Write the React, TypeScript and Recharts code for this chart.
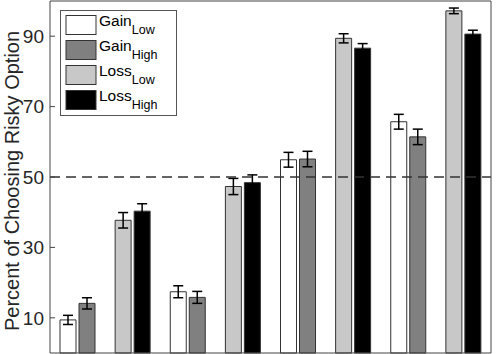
import { BarChart, Bar, XAxis, YAxis, ReferenceLine, ErrorBar, Cell, Legend } from 'recharts';

// four conditions, each split into a gain pair and a loss pair
const gainLow = [9.4, 17.4, 54.9, 65.7];
const gainLowErr = [1.3, 1.7, 2.1, 2.1];
const gainHigh = [14.1, 15.8, 55.1, 61.4];
const gainHighErr = [1.6, 1.7, 2.2, 2.2];
const lossLow = [37.7, 47.3, 89.4, 97.2];
const lossLowErr = [2.2, 2.3, 1.3, 0.8];
const lossHigh = [40.3, 48.4, 86.6, 90.6];
const lossHighErr = [2.1, 2.2, 1.3, 1.1];

const yTicks = [10, 30, 50, 70, 90];
const xTicks = [1.5, 3.5, 5.5, 7.5];

const colors = {
  gain: ['#ffffff', '#808080'],
  loss: ['#c8c8c8', '#000000'],
};

const legendItems = [
  { name: 'Gain', sub: 'Low', fill: colors.gain[0] },
  { name: 'Gain', sub: 'High', fill: colors.gain[1] },
  { name: 'Loss', sub: 'Low', fill: colors.loss[0] },
  { name: 'Loss', sub: 'High', fill: colors.loss[1] },
];

const rows = gainLow.flatMap((_, i) => [
  { x: 2 * i + 1, kind: 'gain', a: gainLow[i], aErr: gainLowErr[i], b: gainHigh[i], bErr: gainHighErr[i] },
  { x: 2 * i + 2, kind: 'loss', a: lossLow[i], aErr: lossLowErr[i], b: lossHigh[i], bErr: lossHighErr[i] },
]);

const FONT = '"Liberation Sans", Arial, sans-serif';
const AXIS = '#444444';
const EDGE = '#333333';

function YLabel() {
  return (
    <text
      x={18.5}
      y={181}
      transform="rotate(-90 18.5 181)"
      textAnchor="middle"
      fontSize={20}
      fontFamily={FONT}
      fill="#262626"
    >
      Percent of Choosing Risky Option
    </text>
  );
}

function LegendBox() {
  return (
    <svg width={118} height={107} style={{ display: 'block' }}>
      <rect x={0.5} y={0.5} width={116} height={105} fill="#fff" stroke="#555" />
      {legendItems.map((item, i) => (
        <g key={i}>
          <rect x={6} y={5.5 + 25 * i} width={30} height={19} fill={item.fill} stroke={EDGE} />
          <text x={39} y={16 + 25 * i} fontFamily={FONT} fill="#000">
            <tspan fontSize={15.5}>{item.name}</tspan>
            <tspan fontSize={12.5} dy={8.3}>{item.sub}</tspan>
          </text>
        </g>
      ))}
    </svg>
  );
}

export default function App() {
  return (
    <div style={{ position: 'absolute', left: 0, top: 0, width: 497, height: 354, background: '#fff' }}>
      <BarChart
        width={497}
        height={354}
        data={rows}
        margin={{ top: 0, right: 0, bottom: 0, left: 0 }}
        barSize={16}
        barGap={3}
        style={{ fontFamily: FONT }}
      >
        <XAxis
          dataKey="x"
          type="number"
          domain={[0.5, 8.5]}
          ticks={xTicks}
          tick={false}
          tickSize={-5}
          height={1}
          axisLine={{ stroke: AXIS }}
          tickLine={{ stroke: AXIS }}
        />
        <XAxis
          xAxisId="top"
          orientation="top"
          dataKey="x"
          type="number"
          domain={[0.5, 8.5]}
          ticks={xTicks}
          tick={false}
          tickSize={-5}
          height={1}
          axisLine={{ stroke: AXIS }}
          tickLine={{ stroke: AXIS }}
        />
        <YAxis
          type="number"
          domain={[0, 100]}
          ticks={yTicks}
          tickSize={-5}
          tickMargin={11}
          width={50}
          axisLine={{ stroke: AXIS }}
          tickLine={{ stroke: AXIS }}
          tick={{ fill: '#262626', fontSize: 19, fontFamily: FONT }}
          label={<YLabel />}
        />
        <YAxis
          yAxisId="right"
          orientation="right"
          type="number"
          domain={[0, 100]}
          ticks={yTicks}
          tick={false}
          tickSize={-5}
          width={6}
          axisLine={{ stroke: AXIS }}
          tickLine={{ stroke: AXIS }}
        />
        <Legend
          layout="vertical"
          align="center"
          verticalAlign="middle"
          wrapperStyle={{ left: 60, top: 10, width: 118, height: 107 }}
          content={<LegendBox />}
        />
        <Bar dataKey="a" stroke={EDGE} strokeWidth={1} isAnimationActive={false}>
          {rows.map((r, i) => (
            <Cell key={i} fill={colors[r.kind as 'gain' | 'loss'][0]} />
          ))}
          <ErrorBar dataKey="aErr" width={5} stroke="#000" strokeWidth={1.5} direction="y" />
        </Bar>
        <Bar dataKey="b" stroke={EDGE} strokeWidth={1} isAnimationActive={false}>
          {rows.map((r, i) => (
            <Cell key={i} fill={colors[r.kind as 'gain' | 'loss'][1]} />
          ))}
          <ErrorBar dataKey="bErr" width={5} stroke="#000" strokeWidth={1.5} direction="y" />
        </Bar>
        <ReferenceLine y={50} stroke="#333" strokeWidth={1.5} strokeDasharray="10 6" />
      </BarChart>
    </div>
  );
}
